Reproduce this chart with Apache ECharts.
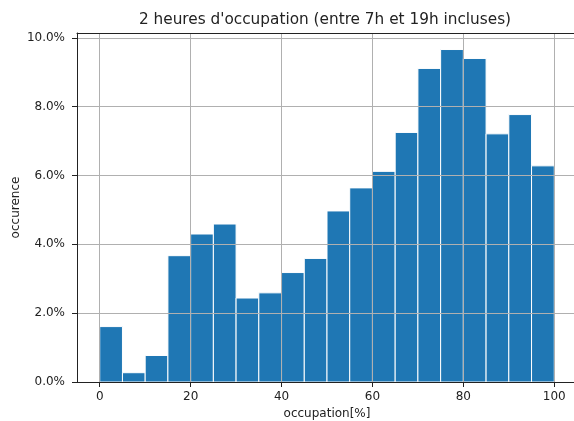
<!DOCTYPE html>
<html>
<head>
    <meta charset="utf-8">
    <title>occupation</title>
    <style>
        body { margin: 0; background: #fff; }
        #chart { width: 574px; height: 421px; }
    </style>
</head>
<body>
    <div id="chart"></div>
    <script src="https://cdn.jsdelivr.net/npm/echarts@6/dist/echarts.min.js"></script>
    <script>
        // bins of 5 % each, from 0 to 100
        var binStarts = [0, 5, 10, 15, 20, 25, 30, 35, 40, 45, 50, 55, 60, 65, 70, 75, 80, 85, 90, 95];
        var binWidth = 5;
        // occurence in %
        var occurence = [1.61, 0.27, 0.77, 3.67, 4.30, 4.59, 2.44, 2.59, 3.18, 3.59,
                         4.97, 5.64, 6.12, 7.25, 9.11, 9.66, 9.40, 7.21, 7.77, 6.28];
        var xTicks = [0, 20, 40, 60, 80, 100];
        var yTicks = [0, 2, 4, 6, 8, 10];

        var font = 'DejaVu Sans';
        var ink = '#222';
        var data = binStarts.map(function (s, i) { return [s, s + binWidth, occurence[i]]; });

        var chart = echarts.init(document.getElementById('chart'));
        chart.setOption({
            animation: false,
            title: {
                text: "2 heures d'occupation (entre 7h et 19h incluses)",
                left: 320,
                top: 8,
                textAlign: 'center',
                textStyle: { fontFamily: font, fontSize: 15.3, fontWeight: 'normal', color: ink }
            },
            grid: { left: 77, top: 33, right: -3, bottom: 39, outerBoundsMode: 'none', containLabel: false },
            xAxis: [{
                type: 'value',
                min: -5,
                max: 105,
                z: 5,
                name: 'occupation[%]',
                nameLocation: 'middle',
                nameGap: 26,
                nameTextStyle: { fontFamily: font, fontSize: 12, color: ink },
                axisLine: { onZero: false, lineStyle: { color: ink, width: 1 } },
                axisTick: { customValues: xTicks, length: 5, lineStyle: { color: ink } },
                axisLabel: { customValues: xTicks, fontFamily: font, fontSize: 12, color: ink, margin: 9 },
                splitLine: { show: true, lineStyle: { color: '#b0b0b0', width: 1 } }
            }, {
                type: 'value',
                position: 'top',
                min: -5,
                max: 105,
                z: 5,
                axisLine: { show: true, onZero: false, lineStyle: { color: ink, width: 1 } },
                axisTick: { show: false },
                axisLabel: { show: false },
                splitLine: { show: false }
            }],
            yAxis: {
                type: 'value',
                min: 0,
                max: 10.14,
                z: 5,
                name: 'occurence',
                nameLocation: 'middle',
                nameGap: 55,
                nameMoveOverlap: false,
                nameTextStyle: { fontFamily: font, fontSize: 12, color: ink },
                axisLine: { show: true, onZero: false, lineStyle: { color: ink, width: 1 } },
                axisTick: { show: true, customValues: yTicks, length: 5, lineStyle: { color: ink } },
                axisLabel: {
                    customValues: yTicks, fontFamily: font, fontSize: 12, color: ink, margin: 12,
                    formatter: function (v) { return v.toFixed(1) + '%'; }
                },
                splitLine: { show: true, lineStyle: { color: '#b0b0b0', width: 1 } }
            },
            series: [{
                type: 'custom',
                data: data,
                encode: { x: [0, 1], y: 2 },
                renderItem: function (params, api) {
                    var p0 = api.coord([api.value(0), api.value(2)]);
                    var p1 = api.coord([api.value(1), 0]);
                    return {
                        type: 'rect',
                        shape: { x: p0[0], y: p0[1], width: p1[0] - p0[0], height: p1[1] - p0[1] },
                        style: { fill: '#1f77b4', stroke: '#fff', lineWidth: 1 }
                    };
                }
            }]
        });
    </script>
</body>
</html>
